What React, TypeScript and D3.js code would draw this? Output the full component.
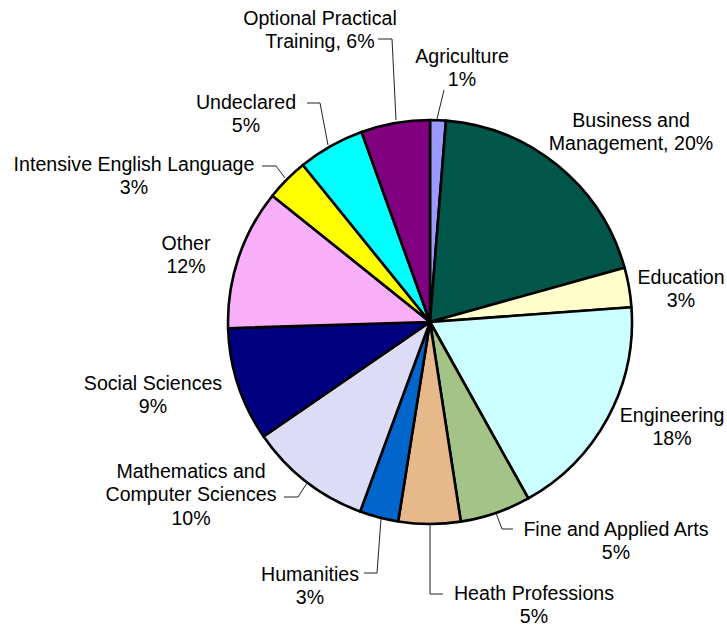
import React, { useEffect, useRef } from "react";
import * as d3 from "d3";

// slice sizes (percent of total)
const categories = [
  "Agriculture",
  "Business and Management",
  "Education",
  "Engineering",
  "Fine and Applied Arts",
  "Heath Professions",
  "Humanities",
  "Mathematics and Computer Sciences",
  "Social Sciences",
  "Other",
  "Intensive English Language",
  "Undeclared",
  "Optional Practical Training",
];
const values = [1.26, 19.41, 3.17, 18.07, 5.65, 4.96, 3.1, 9.79, 9.1, 11.24, 3.42, 5.33, 5.5];
// percentages as printed in the labels
const shownPercents = ["1%", "20%", "3%", "18%", "5%", "5%", "3%", "10%", "9%", "12%", "3%", "5%", "6%"];
const colors = [
  "#9999ff", "#01564a", "#ffffcc", "#ccffff", "#a3c486", "#e7b98a", "#0066cc",
  "#dcdcf6", "#000080", "#f9aefa", "#ffff00", "#00ffff", "#800080",
];

// label layout: text lines, centre x, first baseline y, optional leader polyline
const labelLayout = [
  { lines: ["Agriculture", "{p}"], x: 462, y: 63, leader: [[444, 90], [437, 119]] },
  { lines: ["Business and", "Management, {p}"], x: 631, y: 127 },
  { lines: ["Education", "{p}"], x: 681, y: 284 },
  { lines: ["Engineering", "{p}"], x: 672, y: 422 },
  { lines: ["Fine and Applied Arts", "{p}"], x: 616, y: 536, leader: [[496, 513], [502, 529], [513, 529]] },
  { lines: ["Heath Professions", "{p}"], x: 534, y: 600, leader: [[430, 523], [430, 594], [443, 594]] },
  { lines: ["Humanities", "{p}"], x: 310, y: 581, leader: [[381, 519], [377, 573], [364, 573]] },
  { lines: ["Mathematics and", "Computer Sciences", "{p}"], x: 191, y: 478, leader: [[284, 497], [298, 497], [307, 483]] },
  { lines: ["Social Sciences", "{p}"], x: 153, y: 390 },
  { lines: ["Other", "{p}"], x: 186, y: 250 },
  { lines: ["Intensive English Language", "{p}"], x: 134, y: 171, leader: [[262, 166], [276, 166], [285, 178]] },
  { lines: ["Undeclared", "{p}"], x: 246, y: 109, leader: [[307, 103], [320, 103], [328, 145]] },
  { lines: ["Optional Practical", "Training, {p}"], x: 320, y: 25, leader: [[378, 39], [392, 39], [396, 120]] },
];

const W = 727;
const H = 627;
const cx = 430;
const cy = 322;
const radius = 202;

export default function App() {
  const ref = useRef<SVGSVGElement>(null);

  useEffect(() => {
    const svg = d3.select(ref.current);
    svg.selectAll("*").remove();

    const data = categories.map((c, i) => ({ name: c, value: values[i], i }));
    const pie = d3.pie().sort(null).value((d) => d.value);
    const arc = d3.arc().innerRadius(0).outerRadius(radius);

    const g = svg.append("g").attr("transform", `translate(${cx},${cy})`);
    g.selectAll("path")
      .data(pie(data))
      .join("path")
      .attr("d", arc)
      .attr("fill", (d) => colors[d.data.i])
      .attr("stroke", "#000")
      .attr("stroke-width", 2.6)
      .attr("stroke-linejoin", "round");

    const line = d3.line();
    labelLayout.forEach((lab, i) => {
      if (lab.leader) {
        svg.append("path")
          .attr("d", line(lab.leader))
          .attr("fill", "none")
          .attr("stroke", "#222")
          .attr("stroke-width", 1);
      }
      const t = svg.append("text")
        .attr("text-anchor", "middle")
        .attr("font-family", "'Liberation Sans', Arial, sans-serif")
        .attr("font-size", 19.6)
        .attr("fill", "#000");
      lab.lines.forEach((s, k) => {
        t.append("tspan")
          .attr("x", lab.x)
          .attr("y", lab.y + k * 23.3)
          .text(s.replace("{p}", shownPercents[i]));
      });
    });
  }, []);

  return (
    <svg
      ref={ref}
      width={W}
      height={H}
      style={{ position: "absolute", left: 0, top: 0, background: "#fff" }}
    />
  );
}
